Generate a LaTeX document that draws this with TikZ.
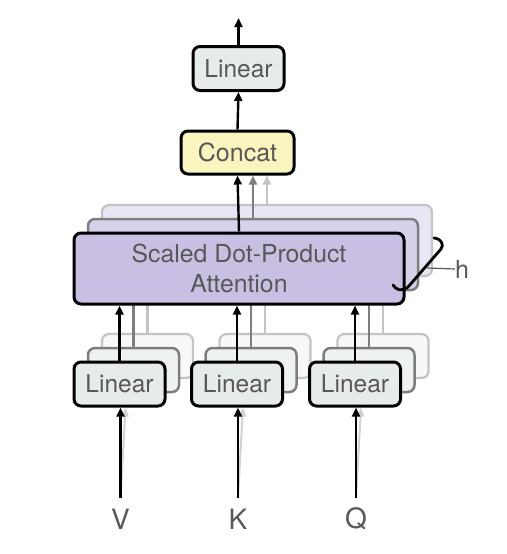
\documentclass[tikz,border=0pt]{standalone}
\usepackage{fontspec}
\setmainfont{TeX Gyre Heros}
\usetikzlibrary{arrows.meta,calc}
\definecolor{txt}{HTML}{585858}
\definecolor{linfill}{HTML}{E6ECEA}
\definecolor{linfillb}{HTML}{EEF2F1}
\definecolor{linfillc}{HTML}{F7F8F8}
\definecolor{catfill}{HTML}{FAF4BE}
\definecolor{attfill}{HTML}{C8BFE2}
\definecolor{attfillb}{HTML}{D8D1EC}
\definecolor{attfillc}{HTML}{E9E5F4}
\definecolor{edgeb}{HTML}{7E7E7E}
\definecolor{edgec}{HTML}{C4C4C4}
\begin{document}
\begin{tikzpicture}[x=1pt,y=-1pt,
  box/.style={draw=black, line width=3pt, rounded corners=7pt, inner sep=0pt, text=txt,
    font=\fontsize{24.5}{29}\selectfont, align=center},
  linbox/.style={box, fill=linfill, minimum width=91pt, minimum height=44pt},
  linboxb/.style={linbox, fill=linfillb, draw=edgeb, line width=2.5pt},
  linboxc/.style={linbox, fill=linfillc, draw=edgec, line width=2.2pt},
  catbox/.style={box, fill=catfill, minimum width=113pt, minimum height=43pt, font=\fontsize{25}{29}\selectfont},
  attbox/.style={box, fill=attfill, minimum width=330pt, minimum height=71pt, font=\fontsize{24.8}{29.5}\selectfont},
  attboxb/.style={attbox, fill=attfillb, draw=edgeb, line width=2.5pt},
  attboxc/.style={attbox, fill=attfillc, draw=edgec, line width=2.2pt},
  arr/.style={-{Triangle[length=9pt,width=8pt]}, line width=2.4pt, draw=black},
  arrb/.style={arr, draw=edgeb, -{Triangle[length=9pt,width=8pt,fill=edgeb]}},
  arrc/.style={arr, draw=edgec, -{Triangle[length=9pt,width=8pt,fill=edgec]}},
  inlabel/.style={text=txt, font=\fontsize{28}{30}\selectfont, inner sep=0pt}
]
\useasboundingbox (0,0) rectangle (506,554);

% top part
\node[linbox] (out) at (238.5,68.5) {Linear};
\coordinate (outtop) at (238.5,18);
\node[catbox] (cat) at (237.5,152.5) {Concat};

% back layer
\node[attboxc] (att3) at (267,240.5) {};
\draw[arrc] (att3.north) -- (att3.north |- cat.south);
\foreach \n/\x in {v/119.5,k/237,q/355}{
  \node[linboxc] (\n3) at (\x+28,356) {};
  \draw[arrc] (\n3.north) -- (\n3.north |- att3.south);
}
% middle layer
\node[attboxb] (att2) at (253,254.5) {};
\draw[arrb] (att2.north) -- (att2.north |- cat.south);
\foreach \n/\x in {v/119.5,k/237,q/355}{
  \node[linboxb] (\n2) at (\x+14,370) {};
  \draw[arrb] (\n2.north) -- (\n2.north |- att2.south);
}
% front layer
\node[attbox] (att) at (239,268.5) {Scaled Dot-Product\\Attention};
\draw[arr] (att.north) -- (cat.south);
\draw[arr] (cat.north) -- (out.south);
\draw[arr] (out.north) -- (outtop);
\foreach \n/\x/\t in {v/119.5/V,k/237/K,q/355/Q}{
  \node[linbox] (\n) at (\x,384) {Linear};
  \draw[arr] (\n.north) -- (\n.north |- att.south);
  \coordinate (\n in) at (\x+1,498);
  \node[inlabel] (\n lab) at (\x+1,519) {\t};
  \draw[arrc, draw=gray!35, line width=2pt, -{Triangle[length=9pt,width=7pt,fill=gray!35]}] (\n in) -- ($(\n.south)+(6,0)$);
  \draw[arr] (\n in) -- (\n in |- \n.south);
}

% h bracket
\coordinate (b1) at (434,238);
\coordinate (b2) at (441,249);
\coordinate (b3) at (408,287);
\coordinate (b4) at (393,285);
\draw[line width=2.8pt, line cap=round] (b1) .. controls (442,239) and (444,245) .. (b2) -- (b3) .. controls (402,292) and (396,290) .. (b4);
\coordinate (hl) at (427,268);
\node[text=txt, font=\fontsize{25}{27}\selectfont, inner sep=0pt, anchor=west] (h) at (455,269) {h};
\draw[draw=txt, line width=1.2pt] (hl) -- (h.west);
\end{tikzpicture}
\end{document}
